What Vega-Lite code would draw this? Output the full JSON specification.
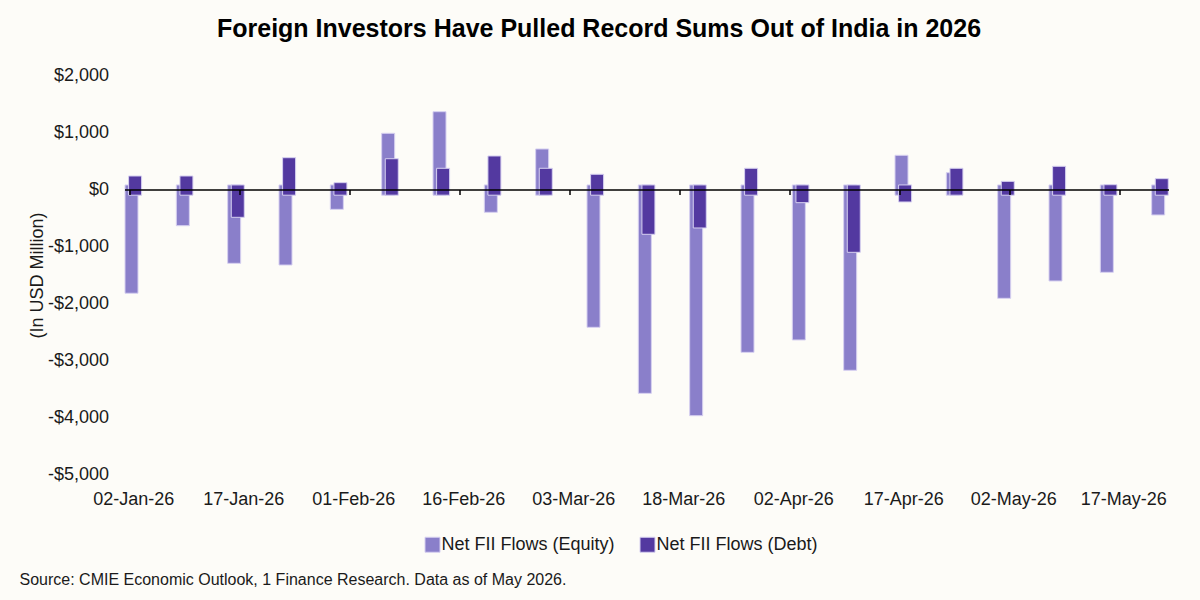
{
  "$schema": "https://vega.github.io/schema/vega-lite/v6.json",
  "autosize": "none",
  "width": 1044,
  "height": 399,
  "padding": {"left": 124.5, "top": 75.5, "right": 31.5, "bottom": 125.5},
  "background": "#fdfcf8",
  "title": {
    "text": "Foreign Investors Have Pulled Record Sums Out of India in 2026",
    "anchor": "middle",
    "frame": "group",
    "dx": -47.5,
    "offset": 25,
    "fontSize": 25,
    "fontWeight": "bold",
    "color": "#000000"
  },
  "data": {
    "values": [
      {"week": "2026-01-02", "Net FII Flows (Equity)": -1820, "Net FII Flows (Debt)": 237},
      {"week": "2026-01-09", "Net FII Flows (Equity)": -635, "Net FII Flows (Debt)": 237},
      {"week": "2026-01-16", "Net FII Flows (Equity)": -1295, "Net FII Flows (Debt)": -488},
      {"week": "2026-01-23", "Net FII Flows (Equity)": -1325, "Net FII Flows (Debt)": 558},
      {"week": "2026-01-30", "Net FII Flows (Equity)": -348, "Net FII Flows (Debt)": 120},
      {"week": "2026-02-06", "Net FII Flows (Equity)": 986, "Net FII Flows (Debt)": 540},
      {"week": "2026-02-13", "Net FII Flows (Equity)": 1365, "Net FII Flows (Debt)": 372},
      {"week": "2026-02-20", "Net FII Flows (Equity)": -400, "Net FII Flows (Debt)": 588},
      {"week": "2026-02-27", "Net FII Flows (Equity)": 711, "Net FII Flows (Debt)": 372},
      {"week": "2026-03-06", "Net FII Flows (Equity)": -2418, "Net FII Flows (Debt)": 267},
      {"week": "2026-03-13", "Net FII Flows (Equity)": -3576, "Net FII Flows (Debt)": -786},
      {"week": "2026-03-20", "Net FII Flows (Equity)": -3968, "Net FII Flows (Debt)": -675},
      {"week": "2026-03-27", "Net FII Flows (Equity)": -2857, "Net FII Flows (Debt)": 372},
      {"week": "2026-04-03", "Net FII Flows (Equity)": -2640, "Net FII Flows (Debt)": -231},
      {"week": "2026-04-10", "Net FII Flows (Equity)": -3172, "Net FII Flows (Debt)": -1102},
      {"week": "2026-04-17", "Net FII Flows (Equity)": 600, "Net FII Flows (Debt)": -219},
      {"week": "2026-04-24", "Net FII Flows (Equity)": 295, "Net FII Flows (Debt)": 372},
      {"week": "2026-05-01", "Net FII Flows (Equity)": -1909, "Net FII Flows (Debt)": 143},
      {"week": "2026-05-08", "Net FII Flows (Equity)": -1605, "Net FII Flows (Debt)": 407},
      {"week": "2026-05-15", "Net FII Flows (Equity)": -1453, "Net FII Flows (Debt)": 84},
      {"week": "2026-05-22", "Net FII Flows (Equity)": -447, "Net FII Flows (Debt)": 190}
    ]
  },
  "transform": [
    {"fold": ["Net FII Flows (Equity)", "Net FII Flows (Debt)"], "as": ["series", "value"]}
  ],
  "encoding": {
    "x": {
      "field": "week",
      "type": "temporal",
      "scale": {
        "type": "utc",
        "domain": [
          {"year": 2026, "month": 1, "date": 2, "utc": true},
          {"year": 2026, "month": 5, "date": 23, "utc": true}
        ],
        "nice": false
      },
      "axis": {
        "values": [
          {"year": 2026, "month": 1, "date": 2, "utc": true},
          {"year": 2026, "month": 1, "date": 17, "utc": true},
          {"year": 2026, "month": 2, "date": 1, "utc": true},
          {"year": 2026, "month": 2, "date": 16, "utc": true},
          {"year": 2026, "month": 3, "date": 3, "utc": true},
          {"year": 2026, "month": 3, "date": 18, "utc": true},
          {"year": 2026, "month": 4, "date": 2, "utc": true},
          {"year": 2026, "month": 4, "date": 17, "utc": true},
          {"year": 2026, "month": 5, "date": 2, "utc": true},
          {"year": 2026, "month": 5, "date": 17, "utc": true}
        ],
        "labelExpr": "utcFormat(datum.value, '%d-%b-%y')",
        "offset": -285,
        "zindex": 1,
        "grid": false,
        "domainColor": "#000000",
        "domainWidth": 1.5,
        "tickColor": "#000000",
        "tickWidth": 1.5,
        "tickSize": 5,
        "labelPadding": 296,
        "labelOffset": 3.7,
        "labelFontSize": 18,
        "labelColor": "#1a1a1a",
        "labelFlush": false,
        "labelOverlap": false,
        "title": "Source: CMIE Economic Outlook, 1 Finance Research. Data as of May 2026.",
        "titleX": -105.5,
        "titleY": 394.5,
        "titleAnchor": "start",
        "titleAlign": "left",
        "titleBaseline": "alphabetic",
        "titleFontSize": 16,
        "titleFontWeight": "normal",
        "titleColor": "#1a1a1a"
      }
    },
    "y": {
      "field": "value",
      "type": "quantitative",
      "scale": {"domain": [-5000, 2000], "nice": false, "zero": false},
      "axis": {
        "values": [-5000, -4000, -3000, -2000, -1000, 0, 1000, 2000],
        "labelExpr": "datum.value < 0 ? '-$' + format(-datum.value, ',') : '$' + format(datum.value, ',')",
        "domain": false,
        "ticks": false,
        "grid": false,
        "labelPadding": 16,
        "labelFontSize": 18,
        "labelColor": "#1a1a1a",
        "title": "(In USD Million)",
        "titleFontSize": 18,
        "titleFontWeight": "normal",
        "titleColor": "#1a1a1a",
        "titlePadding": 1
      }
    },
    "color": {
      "field": "series",
      "type": "nominal",
      "scale": {
        "domain": ["Net FII Flows (Equity)", "Net FII Flows (Debt)"],
        "range": ["#8a7fca", "#5339a0"]
      },
      "legend": {
        "orient": "none",
        "legendX": 299,
        "legendY": 460,
        "direction": "horizontal",
        "title": null,
        "labelFontSize": 18,
        "labelColor": "#1a1a1a",
        "labelLimit": 400,
        "labelOffset": 0,
        "columnPadding": 22,
        "symbolType": "square",
        "symbolSize": 225,
        "symbolStrokeColor": "#d6d0f0",
        "symbolStrokeWidth": 1
      }
    }
  },
  "layer": [
    {
      "transform": [{"filter": "datum.series == 'Net FII Flows (Equity)' && datum.value < 0"}],
      "mark": {"type": "bar", "width": 13, "xOffset": 2, "stroke": "#d6d0f0", "strokeWidth": 1},
      "encoding": {"y2": {"datum": 80}}
    },
    {
      "transform": [{"filter": "datum.series == 'Net FII Flows (Equity)' && datum.value >= 0"}],
      "mark": {"type": "bar", "width": 13, "xOffset": 2, "stroke": "#d6d0f0", "strokeWidth": 1},
      "encoding": {"y2": {"datum": -100}}
    },
    {
      "transform": [{"filter": "datum.series == 'Net FII Flows (Debt)' && datum.value < 0"}],
      "mark": {"type": "bar", "width": 13, "xOffset": 5.6, "stroke": "#d6d0f0", "strokeWidth": 1},
      "encoding": {"y2": {"datum": 80}}
    },
    {
      "transform": [{"filter": "datum.series == 'Net FII Flows (Debt)' && datum.value >= 0"}],
      "mark": {"type": "bar", "width": 13, "xOffset": 5.6, "stroke": "#d6d0f0", "strokeWidth": 1},
      "encoding": {"y2": {"datum": -100}}
    }
  ],
  "config": {
    "font": "Liberation Sans",
    "view": {"stroke": null}
  }
}
